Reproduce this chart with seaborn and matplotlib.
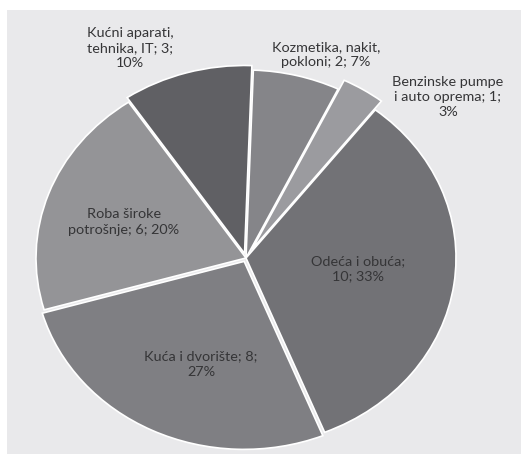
import matplotlib
matplotlib.use("Agg")
import matplotlib.pyplot as plt
from matplotlib.patches import Rectangle
import seaborn as sns
import numpy as np

# Data (clockwise from 12 o'clock)
categories = ["Kozmetika, nakit,\npokloni", "Benzinske pumpe\ni auto oprema",
              "Odeća i obuća", "Kuća i dvorište", "Roba široke\npotrošnje",
              "Kućni aparati,\ntehnika, IT"]
label_text = ["Kozmetika, nakit,\npokloni; 2; 7%",
              "Benzinske pumpe\ni auto oprema; 1;\n3%",
              "Odeća i obuća;\n10; 33%",
              "Kuća i dvorište; 8;\n27%",
              "Roba široke\npotrošnje; 6; 20%",
              "Kućni aparati,\ntehnika, IT; 3;\n10%"]
values = [2, 1, 10, 8, 6, 3]
colors = ["#858589", "#9b9b9f", "#727276", "#7f7f83", "#949497", "#606064"]
explode = [0.0, 0.055, 0.0, 0.02, 0.0, 0.025]

sns.set_theme(style="white")
plt.rcParams['font.family'] = ['Lato', 'DejaVu Sans']

W, H = 521, 454
fig = plt.figure(figsize=(W / 100, H / 100), dpi=100)
fig.patch.set_facecolor("white")
fig.patches.append(Rectangle((7 / W, 0), 1 - 7 / W, 1 - 10 / H,
                             transform=fig.transFigure, facecolor="#e9e9eb",
                             edgecolor="none", zorder=-5))

cx, cy = 246, H - 258
rx, ry = 210, 188
ax = fig.add_axes([(cx - rx) / W, (cy - ry) / H, 2 * rx / W, 2 * ry / H])
ax.set_facecolor("none")
ax.set_zorder(1)

wedges, _ = ax.pie(values, colors=colors, explode=explode, startangle=88,
                   counterclock=False,
                   wedgeprops=dict(edgecolor="white", linewidth=1.2))
for w in wedges:
    w.set_clip_on(False)
ax.set_aspect("auto")
ax.set_xlim(-1, 1)
ax.set_ylim(-1, 1)
ax.axis("off")

# label centres in pixel coordinates of the picture
label_px = [(326, 55), (448, 97), (358, 269), (201, 364), (124, 222), (130, 48)]
for txt, (px, py) in zip(label_text, label_px):
    t = fig.text(px / W, 1 - py / H, txt, ha="center", va="center",
                 fontsize=10.4, color="#353537", linespacing=1.3)
    t.set_zorder(5)

fig.savefig("out.png", dpi=100, facecolor=fig.get_facecolor())
